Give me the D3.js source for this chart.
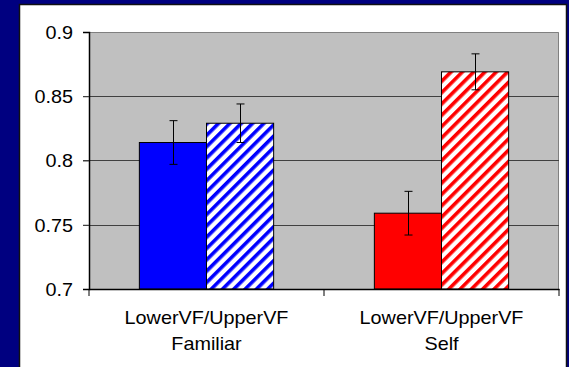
<!DOCTYPE html>
<html><head><meta charset="utf-8">
<script src="https://cdn.jsdelivr.net/npm/d3@7"></script>
<style>html,body{margin:0;padding:0;background:#000080;}svg{display:block;}</style>
</head><body><svg id="c" width="569" height="367"></svg>
<script>
const categories = ["Familiar", "Self"];
const categoryTop = "LowerVF/UpperVF";
const series = ["LowerVF", "UpperVF"];
const values = [[0.814, 0.829], [0.759, 0.869]];
const errors = [[0.017, 0.015], [0.017, 0.014]];
const yTicks = [0.7, 0.75, 0.8, 0.85, 0.9];
const colors = ["#0000ff", "#ff0000"];

const svg = d3.select("#c");
svg.append("rect").attr("width",569).attr("height",367).attr("fill","#000080");
svg.append("rect").attr("x",19.5).attr("y",4.5).attr("width",547).attr("height",370)
  .attr("fill","#fff").attr("stroke","#111").attr("stroke-width",1.5);

const L=89, R=559, T=32, B=289;
const x0 = d3.scaleBand().domain(categories).range([L,R]).paddingInner(0).paddingOuter(0);
const x1 = d3.scaleBand().domain(series).range([0,x0.bandwidth()]).paddingOuter(0.75).paddingInner(0);
const y = d3.scaleLinear().domain([0.7,0.9]).range([B,T]);

const defs = svg.append("defs");
colors.forEach((c,i)=>{
  const p = defs.append("pattern").attr("id","h"+i).attr("patternUnits","userSpaceOnUse")
    .attr("width",8).attr("height",8).attr("patternTransform","rotate(45)");
  p.append("rect").attr("width",8).attr("height",8).attr("fill","#fff");
  p.append("rect").attr("x",0).attr("width",3.6).attr("height",8).attr("fill",c);
});

svg.append("rect").attr("x",L).attr("y",T).attr("width",R-L).attr("height",B-T).attr("fill","#c0c0c0");
svg.append("path").attr("d",`M${L},${T+0.5}H${R-0.5}V${B}`).attr("fill","none").attr("stroke","#808080").attr("stroke-width",1);

// gridlines (including tick stubs)
svg.append("g").selectAll("line").data(yTicks.filter(t=>t>0.7 && t<0.9)).join("line")
  .attr("x1",L-6).attr("x2",R).attr("y1",d=>Math.round(y(d))+0.5).attr("y2",d=>Math.round(y(d))+0.5)
  .attr("stroke","#404040").attr("stroke-width",1);

const g = svg.append("g");
categories.forEach((cat,ci)=>{
  series.forEach((s,si)=>{
    const v = values[ci][si];
    const xx = x0(cat)+x1(s);
    g.append("rect").attr("x",xx).attr("y",y(v)).attr("width",x1.bandwidth()).attr("height",y(0.7)-y(v))
      .attr("fill", si===0 ? colors[ci] : `url(#h${ci})`).attr("stroke","#000").attr("stroke-width",1);
  });
});
categories.forEach((cat,ci)=>{
  series.forEach((s,si)=>{
    const v = values[ci][si], e = errors[ci][si];
    const cx = Math.round(x0(cat)+x1(s)+x1.bandwidth()/2)+0.5;
    const eb = svg.append("g").attr("stroke","#000").attr("stroke-width",1);
    eb.append("line").attr("x1",cx).attr("x2",cx).attr("y1",y(v+e)).attr("y2",y(v-e));
    eb.append("line").attr("x1",cx-4).attr("x2",cx+4).attr("y1",y(v+e)).attr("y2",y(v+e));
    eb.append("line").attr("x1",cx-4).attr("x2",cx+4).attr("y1",y(v-e)).attr("y2",y(v-e));
  });
});

// y axis
const ya = svg.append("g").attr("transform",`translate(${L},0)`)
  .call(d3.axisLeft(y).tickValues(yTicks).tickSize(6).tickPadding(10).tickFormat(d3.format("")));
ya.select(".domain").attr("stroke","#000").attr("stroke-width",1.5);
ya.selectAll(".tick line").attr("stroke",d=>(d===0.7||d===0.9)?"#000":"#404040");
ya.selectAll("text").each(function(){
  const t = d3.select(this);
  const xx = +t.attr("x");
  t.attr("x",0).attr("transform",`translate(${xx},0) scale(1.1,1)`);
}).attr("font-family","Liberation Sans, Arial, sans-serif").attr("font-size",18).attr("fill","#000")
  .attr("dy","0.36em");

// x axis
const xa = svg.append("g").attr("transform",`translate(0,${B})`)
  .call(d3.axisBottom(x0).tickSize(0).tickFormat(""));
xa.select(".domain").attr("stroke","#000").attr("stroke-width",1.5);
xa.selectAll(".tick").remove();
const bounds = [L, x0(categories[1]), R];
svg.append("g").selectAll("line").data(bounds).join("line")
  .attr("x1",d=>d).attr("x2",d=>d).attr("y1",B).attr("y2",B+7).attr("stroke","#000").attr("stroke-width",1);

const labs = svg.append("g").attr("font-family","Liberation Sans, Arial, sans-serif").attr("font-size",18)
  .attr("text-anchor","middle").attr("fill","#000");
categories.forEach(cat=>{
  const cx = x0(cat)+x0.bandwidth()/2;
  labs.append("text").attr("transform",`translate(${cx},324) scale(1.1,1)`).text(categoryTop);
  labs.append("text").attr("transform",`translate(${cx},350) scale(1.1,1)`).text(cat);
});
</script></body></html>
